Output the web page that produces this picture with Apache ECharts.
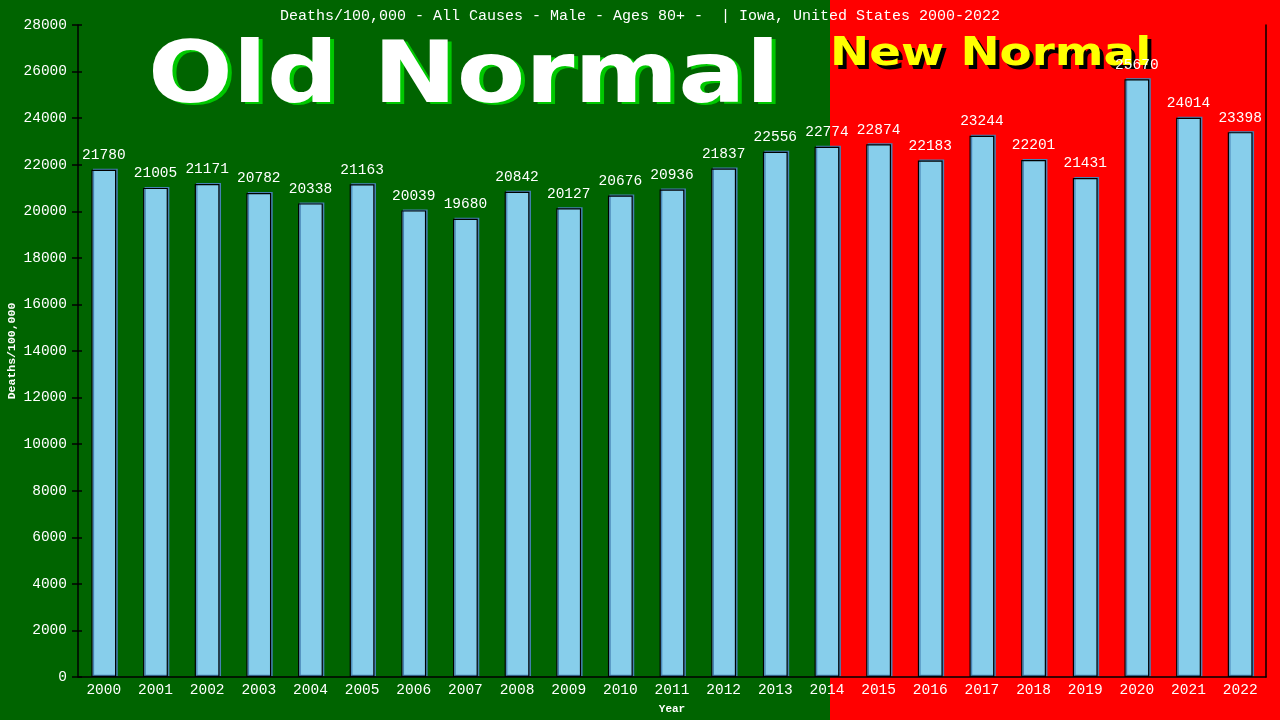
<!DOCTYPE html>
<html>
<head>
<meta charset="utf-8">
<script src="https://cdn.jsdelivr.net/npm/echarts@6/dist/echarts.min.js"></script>
<style>html,body{margin:0;padding:0;background:#006400;}#c{width:1280px;height:720px;}</style>
</head>
<body>
<div id="c"></div>
<script>
var years = ['2000','2001','2002','2003','2004','2005','2006','2007','2008','2009','2010','2011','2012','2013','2014','2015','2016','2017','2018','2019','2020','2021','2022'];
var deaths = [21780,21005,21171,20782,20338,21163,20039,19680,20842,20127,20676,20936,21837,22556,22774,22874,22183,23244,22201,21431,25670,24014,23398];
var titleText = 'Deaths/100,000 - All Causes - Male - Ages 80+ -  | Iowa, United States 2000-2022';
var yMin = 0, yMax = 28000, yStep = 2000;

var mono = '"Liberation Mono", "DejaVu Sans Mono", monospace';
var chart = echarts.init(document.getElementById('c'));
chart.setOption({
  animation: false,
  backgroundColor: '#006400',
  title: {
    text: titleText, left: 'center', top: 4,
    textStyle: {color: '#ffffff', fontFamily: mono, fontSize: 15, fontWeight: 'normal'}
  },
  graphic: [
    {type: 'rect', z: -10, silent: true, shape: {x: 0, y: 0, width: 830, height: 720}, style: {fill: '#006400'}},
    {type: 'rect', z: -10, silent: true, shape: {x: 830, y: 0, width: 450, height: 720}, style: {fill: '#ff0000'}},
    {type: 'text', z: -5, x: 152, y: 82, scaleX: 1.16, silent: true,
      style: {text: 'Old Normal', x: 0, y: 0, fill: '#00c800', font: 'bold 86px "DejaVu Sans"', textAlign: 'left', textVerticalAlign: 'middle'}},
    {type: 'text', z: -4, x: 148, y: 80, scaleX: 1.16, silent: true,
      style: {text: 'Old Normal', x: 0, y: 0, fill: '#ffffff', font: 'bold 86px "DejaVu Sans"', textAlign: 'left', textVerticalAlign: 'middle'}},
    {type: 'text', z: -5, x: 834, y: 59, scaleX: 1.2, silent: true,
      style: {text: 'New Normal', x: 0, y: 0, fill: '#000000', font: 'bold 39px "DejaVu Sans"', textAlign: 'left', textVerticalAlign: 'middle'}},
    {type: 'text', z: -4, x: 830, y: 55, scaleX: 1.2, silent: true,
      style: {text: 'New Normal', x: 0, y: 0, fill: '#ffff00', font: 'bold 39px "DejaVu Sans"', textAlign: 'left', textVerticalAlign: 'middle'}}
  ],
  grid: {left: 78, right: 14, top: 25, bottom: 43, containLabel: false, outerBoundsMode: 'none'},
  xAxis: {
    type: 'category', data: years,
    name: 'Year', nameLocation: 'middle', nameGap: 27, nameMoveOverlap: false,
    nameTextStyle: {color: '#ffffff', fontFamily: mono, fontSize: 11, fontWeight: 'bold'},
    axisLine: {lineStyle: {color: '#000000', width: 1.5}},
    axisTick: {show: false},
    axisLabel: {color: '#ffffff', fontFamily: mono, fontSize: 14.5, margin: 6, interval: 0}
  },
  yAxis: [{
    type: 'value', min: yMin, max: yMax, interval: yStep,
    name: 'Deaths/100,000', nameLocation: 'middle', nameGap: 60, nameRotate: 90, nameMoveOverlap: false,
    nameTextStyle: {color: '#ffffff', fontFamily: mono, fontSize: 11.5, fontWeight: 'bold'},
    axisLine: {show: true, lineStyle: {color: '#000000', width: 1.5}},
    axisTick: {show: true, length: 6, lineStyle: {color: '#000000', width: 1.5}},
    axisLabel: {color: '#ffffff', fontFamily: mono, fontSize: 14.5, margin: 11, formatter: function (v) { return String(v); }},
    splitLine: {show: false}
  }, {
    type: 'value', min: yMin, max: yMax, interval: yStep, position: 'right',
    axisLine: {show: true, lineStyle: {color: '#000000', width: 1.5}},
    axisTick: {show: false}, axisLabel: {show: false}, splitLine: {show: false}
  }, {
    type: 'value', min: yMin, max: yMax, interval: yStep, position: 'left',
    axisLine: {show: false},
    axisTick: {show: true, inside: true, length: 4, lineStyle: {color: '#000000', width: 1.5}},
    axisLabel: {show: false}, splitLine: {show: false}
  }],
  series: [{
    type: 'bar', data: deaths, barWidth: '48%', z: 3,
    itemStyle: {
      color: '#87ceeb', borderColor: '#000000', borderWidth: 1.2,
      shadowColor: '#4682b4', shadowBlur: 0, shadowOffsetX: 1.5, shadowOffsetY: -1
    },
    label: {
      show: true, position: 'top', distance: 7, color: '#ffffff',
      fontFamily: mono, fontSize: 14.5
    }
  }]
});
</script>
</body>
</html>
